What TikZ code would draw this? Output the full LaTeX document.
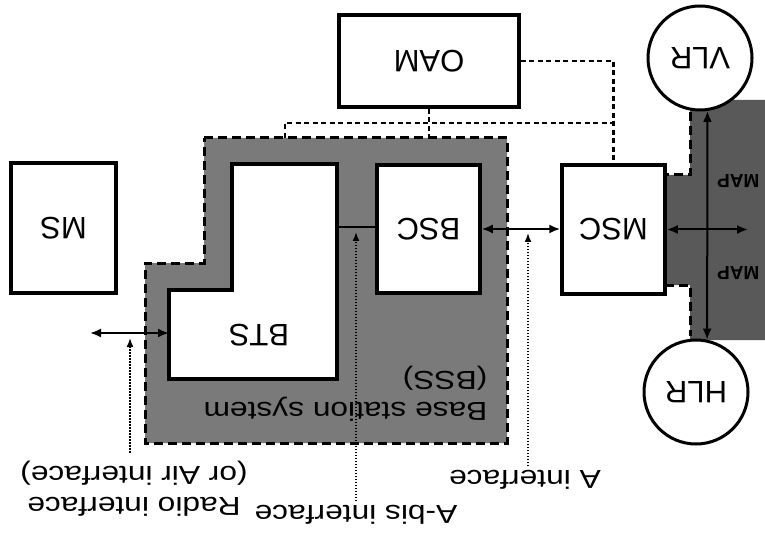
\documentclass[tikz,border=0pt]{standalone}
\usepackage{graphicx}
\usepackage{fontspec}
\setmainfont{Liberation Sans}
\newfontfamily\lblfont[FakeStretch=1.22]{Liberation Sans}
\usetikzlibrary{arrows.meta,calc}
\newcommand{\ud}[1]{\rotatebox[origin=c]{180}{#1}}
\tikzset{
  box/.style={rectangle,draw=black,line width=3.5pt,fill=white,inner sep=0pt,
    font=\fontsize{31}{34}\selectfont},
  db/.style={circle,draw=black,line width=3pt,fill=white,minimum size=104pt,
    inner sep=0pt,font=\fontsize{31}{34}\selectfont},
  lbl/.style={inner sep=0pt,font=\lblfont\fontsize{26}{31}\selectfont},
  maplbl/.style={inner sep=0pt,font=\bfseries\fontsize{19}{22}\selectfont},
  dar/.style={{Latex[length=11pt,width=9pt]}-{Latex[length=11pt,width=9pt]},line width=2pt},
  dotar/.style={-{Latex[length=9pt,width=7pt]},line width=1.6pt,dash pattern=on 1.5pt off 1.5pt},
  oamln/.style={line width=2.4pt,dash pattern=on 5pt off 3.5pt},
  bssln/.style={line width=3pt,dash pattern=on 9pt off 5pt},
}
\begin{document}
\begin{tikzpicture}[x=1pt,y=-1pt]
  \useasboundingbox (0,0) rectangle (765,537);
  \clip (0,0) rectangle (765,537);
  \fill[white] (0,0) rectangle (765,537);
  % shaded areas
  \fill[black!52] (204,138) -- (507,138) -- (507,443) -- (145,443) -- (145,263) -- (204,263) -- cycle;
  \draw[bssln] (204,138) -- (507,138) -- (507,443) -- (145,443) -- (145,263) -- (204,263) -- cycle;
  \fill[black!65] (690,100) -- (765,100) -- (765,340) -- (690,340) -- (690,285) -- (665,285) -- (665,175) -- (690,175) -- cycle;
  \draw[bssln] (690,112) -- (690,175) -- (665,175);
  \draw[bssln] (665,285) -- (690,285) -- (690,336);
  % boxes
  \draw[line width=3.5pt,fill=white] (232,164) -- (337,164) -- (337,379) -- (169,379) -- (169,290) -- (232,290) -- cycle;
  \node[font=\fontsize{31}{34}\selectfont] (bts) at (259,335) {\ud{BTS}};
  \node[box,minimum width=103pt,minimum height=128pt] (bsc) at (428.5,229) {\ud{BSC}};
  \node[box,minimum width=103pt,minimum height=129pt] (msc) at (613.5,229.5) {\ud{MSC}};
  \node[box,minimum width=105pt,minimum height=130pt] (ms) at (63.5,228) {\ud{MS}};
  \node[box,minimum width=180pt,minimum height=92pt] (oam) at (429,61) {\ud{OAM}};
  \node[db] (vlr) at (700,58) {\ud{VLR}};
  \node[db] (hlr) at (696,392) {\ud{HLR}};
  % labels
  \node[lbl] (bsslbl) at (345.5,393.5) {\ud{\begin{tabular}{@{}l@{}}Base station system\\(BSS)\end{tabular}}};
  \node[lbl] (alab) at (525,480) {\ud{A interface}};
  \node[lbl] (ablab) at (356,515) {\ud{A-bis interface}};
  \node[lbl] (rlab) at (134,488) {\ud{\begin{tabular}{@{}c@{}}Radio interface\\(or Air interface)\end{tabular}}};
  \node[maplbl,anchor=west] (map1) at (717,181) {\ud{MAP}};
  \node[maplbl,anchor=west] (map2) at (717,273) {\ud{MAP}};
  % connectors
  \coordinate (btsr) at (337,227);
  \coordinate (btsl) at (169,333);
  \coordinate (airend) at (90,333);
  \coordinate (mapend) at (748,229.5);
  \draw[line width=2pt] (btsr) -- (btsr -| bsc.west);
  \draw[dar] (bsc.east) -- (bsc.east -| msc.west);
  \draw[dar] (btsl) -- (airend);
  \draw[dar] (msc.east) -- (mapend);
  \draw[dar] (vlr.-82) -- (hlr.78);
  % interface taps
  \coordinate (radtap) at (130,338);
  \coordinate (atap) at (528,233);
  \coordinate (abtap) at (356,232);
  \draw[dotar] ([yshift=4pt]rlab.north -| radtap) -- (radtap);
  \draw[dotar] ([yshift=4pt]alab.north -| atap) -- (atap);
  \draw[dotar] ([yshift=4pt]ablab.north -| abtap) -- (abtap);
  % OAM links
  \coordinate (bssn) at (285,138);
  \coordinate (bus) at (285,123);
  \draw[oamln] (oam.east) -- (oam.east -| msc.north) -- (msc.north);
  \draw[oamln] (bssn) -- (bus) -- (bus -| msc.north);
  \draw[oamln] (oam.south) -- (oam.south |- bssn);
\end{tikzpicture}
\end{document}
